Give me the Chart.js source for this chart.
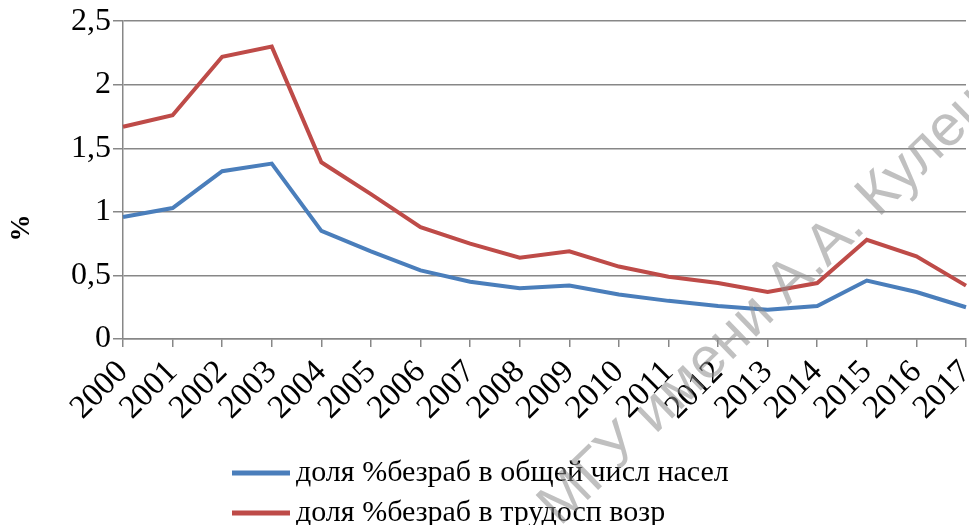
<!DOCTYPE html>
<html lang="ru">
<head>
    <meta charset="UTF-8">
    <title>Доля безработных</title>
    <script src="https://cdn.jsdelivr.net/npm/chart.js"></script>
    <style>
        html, body { margin: 0; padding: 0; background: #fff; }
        #wrap { width: 969px; height: 525px; }
    </style>
</head>
<body>
    <div id="wrap"><canvas id="stats" width="969" height="525"></canvas></div>
    <script>
        const years = ["2000", "2001", "2002", "2003", "2004", "2005", "2006", "2007", "2008",
            "2009", "2010", "2011", "2012", "2013", "2014", "2015", "2016", "2017"];
        const totalPopulation = [0.96, 1.03, 1.32, 1.38, 0.85, 0.69, 0.54, 0.45, 0.40,
            0.42, 0.35, 0.30, 0.26, 0.23, 0.26, 0.46, 0.37, 0.25];
        const workingAge = [1.67, 1.76, 2.22, 2.30, 1.39, 1.14, 0.88, 0.75, 0.64,
            0.69, 0.57, 0.49, 0.44, 0.37, 0.44, 0.78, 0.65, 0.42];
        const seriesNames = ["доля %безраб в общей числ насел", "доля %безраб в трудосп возр"];
        const yTicks = [0, 0.5, 1, 1.5, 2, 2.5];

        const serif = "'Liberation Serif', 'Times New Roman', serif";
        const gridGray = "#878787";

        const ctx = document.getElementById("stats").getContext("2d");
        const statChart = new Chart(ctx, {
            type: "line",
            data: {
                labels: years,
                datasets: [
                    {
                        label: seriesNames[0],
                        data: totalPopulation,
                        borderColor: "#4a7ebb",
                        borderWidth: 4,
                        pointRadius: 0,
                        tension: 0
                    },
                    {
                        label: seriesNames[1],
                        data: workingAge,
                        borderColor: "#be4b48",
                        borderWidth: 4,
                        pointRadius: 0,
                        tension: 0
                    }
                ]
            },
            options: {
                responsive: false,
                animation: false,
                layout: { padding: { top: 21, right: 3, left: 0, bottom: 0 } },
                scales: {
                    x: {
                        offset: false,
                        grid: {
                            drawOnChartArea: false,
                            drawTicks: true,
                            tickLength: 8,
                            color: gridGray,
                            lineWidth: 1.5
                        },
                        border: { color: gridGray, width: 1.5 },
                        ticks: {
                            autoSkip: false,
                            minRotation: 45,
                            maxRotation: 45,
                            padding: 6,
                            color: "#000",
                            font: { family: serif, size: 33 }
                        },
                        afterFit: (s) => {
                            s.height = 186;
                            s.paddingRight = 0;
                            s.paddingLeft = 0;
                        }
                    },
                    y: {
                        min: 0,
                        max: 2.5,
                        afterBuildTicks: (s) => { s.ticks = yTicks.map(v => ({ value: v })); },
                        grid: {
                            color: gridGray,
                            lineWidth: 1.5,
                            tickLength: 10
                        },
                        border: { color: gridGray, width: 1.5 },
                        ticks: {
                            padding: 2,
                            color: "#000",
                            font: { family: serif, size: 32 },
                            callback: (v) => String(v).replace(".", ",")
                        },
                        afterFit: (s) => { s.width = 123; }
                    }
                },
                plugins: {
                    legend: { display: false },
                    tooltip: { enabled: false }
                }
            },
            plugins: [{
                id: "extras",
                afterDraw: (chart) => {
                    const c = chart.ctx;
                    c.save();

                    // axis title
                    c.fillStyle = "#000";
                    c.font = "bold 27px " + serif;
                    c.textAlign = "center";
                    c.textBaseline = "middle";
                    c.translate(22, 228);
                    c.rotate(-Math.PI / 2);
                    c.fillText("%", 0, 0);
                    c.setTransform(1, 0, 0, 1, 0, 0);

                    // legend, one row per series
                    c.font = "30px " + serif;
                    c.textAlign = "left";
                    chart.data.datasets.forEach((ds, i) => {
                        const y = 473 + i * 40;
                        c.strokeStyle = ds.borderColor;
                        c.lineWidth = 5;
                        c.beginPath();
                        c.moveTo(232, y);
                        c.lineTo(290, y);
                        c.stroke();
                        c.fillStyle = "#000";
                        c.fillText(ds.label, 296, y);
                    });

                    // watermark
                    c.fillStyle = "rgba(140, 140, 140, 0.55)";
                    c.font = "58px 'Liberation Sans', Arial, sans-serif";
                    c.textBaseline = "alphabetic";
                    c.translate(560, 527);
                    c.rotate(-0.77);
                    c.fillText("МГУ имени А.А. Кулешова", 0, 0);
                    c.restore();
                }
            }]
        });
    </script>
</body>
</html>
